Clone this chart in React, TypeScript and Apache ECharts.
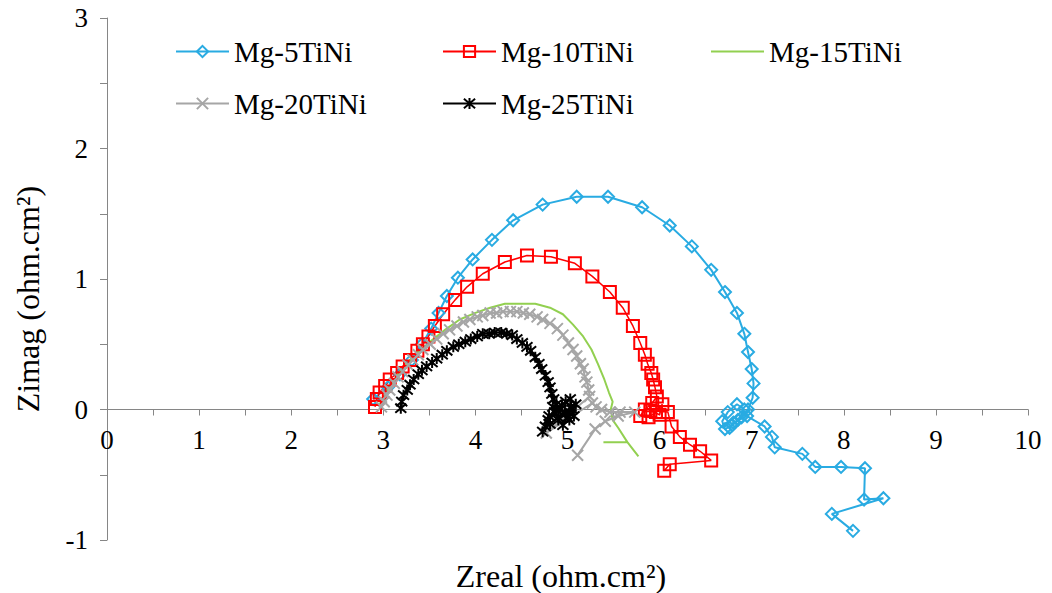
import React, { useEffect, useRef } from "react";
import * as echarts from "echarts";

const seriesNames = ["Mg-5TiNi", "Mg-10TiNi", "Mg-15TiNi", "Mg-20TiNi", "Mg-25TiNi"];

const mg5X = [2.89, 3.05, 3.18, 3.31, 3.42, 3.52, 3.60, 3.69, 3.81, 3.97, 4.18, 4.41, 4.73, 5.10, 5.44, 5.81, 6.11, 6.35, 6.56, 6.71, 6.84, 6.92, 6.96, 7.00, 7.02, 7.01, 6.96, 6.89, 6.79, 6.71, 6.68, 6.74, 6.84, 6.92, 6.85, 6.76, 6.80, 6.95, 7.14, 7.22, 7.25, 7.55, 7.69, 7.97, 8.23, 8.22, 8.43, 7.87, 8.10];
const mg5Y = [0.08, 0.17, 0.27, 0.38, 0.50, 0.62, 0.74, 0.87, 1.01, 1.15, 1.30, 1.45, 1.57, 1.63, 1.63, 1.55, 1.41, 1.25, 1.07, 0.90, 0.74, 0.58, 0.44, 0.31, 0.20, 0.09, 0.00, -0.06, -0.12, -0.15, -0.09, -0.02, 0.04, 0.00, -0.08, -0.14, -0.10, -0.05, -0.13, -0.21, -0.29, -0.34, -0.44, -0.44, -0.45, -0.69, -0.68, -0.80, -0.93];

const mg10X = [2.91, 2.93, 2.96, 3.02, 3.07, 3.15, 3.21, 3.29, 3.37, 3.43, 3.49, 3.56, 3.65, 3.78, 3.91, 4.08, 4.32, 4.56, 4.82, 5.08, 5.27, 5.46, 5.60, 5.71, 5.79, 5.84, 5.87, 5.91, 5.93, 5.95, 5.97, 5.92, 5.84, 5.79, 5.88, 5.96, 6.03, 6.00, 5.90, 6.09, 6.13, 6.22, 6.33, 6.44, 6.56, 6.11, 6.05];
const mg10Y = [0.02, 0.08, 0.13, 0.18, 0.23, 0.28, 0.33, 0.38, 0.45, 0.50, 0.56, 0.64, 0.73, 0.84, 0.94, 1.04, 1.13, 1.18, 1.17, 1.12, 1.02, 0.90, 0.78, 0.64, 0.51, 0.42, 0.35, 0.28, 0.23, 0.17, 0.10, 0.05, 0.00, -0.05, -0.06, -0.02, 0.04, -0.04, -0.01, -0.02, -0.13, -0.21, -0.27, -0.32, -0.39, -0.42, -0.47];

const mg15X = [2.96, 3.03, 3.12, 3.22, 3.36, 3.51, 3.67, 3.83, 4.00, 4.16, 4.32, 4.48, 4.65, 4.81, 4.95, 5.06, 5.17, 5.26, 5.33, 5.40, 5.45, 5.49, 5.47, 5.49, 5.55, 5.65, 5.39, 5.65, 5.77];
const mg15Y = [0.04, 0.13, 0.23, 0.33, 0.43, 0.52, 0.61, 0.69, 0.74, 0.78, 0.81, 0.81, 0.81, 0.78, 0.73, 0.65, 0.56, 0.46, 0.35, 0.23, 0.13, 0.06, 0.00, -0.08, -0.14, -0.25, -0.25, -0.25, -0.36];

const mg20X = [2.98, 3.01, 3.04, 3.07, 3.12, 3.16, 3.21, 3.27, 3.32, 3.38, 3.43, 3.51, 3.58, 3.65, 3.72, 3.80, 3.87, 3.94, 4.02, 4.08, 4.16, 4.23, 4.30, 4.38, 4.45, 4.52, 4.59, 4.67, 4.73, 4.81, 4.89, 4.95, 5.01, 5.06, 5.10, 5.14, 5.17, 5.19, 5.21, 5.23, 5.24, 4.77, 5.27, 5.31, 5.37, 5.46, 5.57, 5.73, 5.55, 5.41, 5.30, 5.11];
const mg20Y = [0.02, 0.06, 0.11, 0.15, 0.20, 0.25, 0.29, 0.34, 0.38, 0.42, 0.46, 0.50, 0.54, 0.58, 0.61, 0.64, 0.67, 0.69, 0.71, 0.72, 0.74, 0.74, 0.75, 0.75, 0.75, 0.74, 0.73, 0.71, 0.69, 0.66, 0.62, 0.57, 0.51, 0.46, 0.41, 0.35, 0.31, 0.25, 0.21, 0.15, 0.10, -0.18, 0.05, 0.02, 0.00, -0.02, -0.02, -0.02, -0.05, -0.09, -0.15, -0.35];

const mg25X = [3.19, 3.20, 3.22, 3.26, 3.29, 3.33, 3.38, 3.42, 3.47, 3.53, 3.58, 3.64, 3.69, 3.76, 3.82, 3.89, 3.95, 4.02, 4.08, 4.15, 4.21, 4.28, 4.34, 4.40, 4.45, 4.51, 4.56, 4.60, 4.65, 4.69, 4.72, 4.76, 4.79, 4.81, 4.83, 4.85, 4.88, 4.92, 4.98, 5.05, 5.09, 5.03, 4.94, 4.86, 4.79, 4.76, 4.73, 4.81, 4.90, 4.97, 5.07, 5.02, 4.84, 4.90, 4.95, 5.00, 5.04, 4.98, 4.88, 4.80];
const mg25Y = [0.01, 0.06, 0.11, 0.15, 0.19, 0.23, 0.27, 0.30, 0.33, 0.36, 0.39, 0.42, 0.45, 0.48, 0.50, 0.52, 0.54, 0.56, 0.58, 0.58, 0.59, 0.59, 0.58, 0.57, 0.54, 0.51, 0.48, 0.45, 0.40, 0.35, 0.31, 0.26, 0.21, 0.17, 0.12, 0.08, 0.04, 0.00, -0.03, 0.00, 0.04, 0.08, 0.03, -0.02, -0.08, -0.13, -0.17, -0.11, -0.06, -0.02, -0.05, -0.08, 0.02, -0.08, -0.12, -0.06, 0.02, 0.06, 0.00, -0.05];

const colors = ["#29ABE2", "#FF0000", "#92D050", "#A6A6A6", "#000000"];

const FONT = '"Liberation Serif", "DejaVu Serif", Tinos, "Times New Roman", Times, serif';

const pair = (xs: number[], ys: number[]) => xs.map((x, i) => [x, ys[i]]);

const xSym = "path://M0,0L10,10M10,0L0,10";
const starSym = "path://M0,0L10,10M10,0L0,10M5,-1L5,11";

export default function App() {
  const ref = useRef<HTMLDivElement>(null);
  useEffect(() => {
    if (!ref.current) return;
    const chart = echarts.init(ref.current, undefined, { renderer: "svg" });
    const intLabel = (v: number) => (Number.isInteger(v) ? String(v) : "");
    const legendPos = [
      { left: 170, top: 32 },
      { left: 437, top: 32 },
      { left: 705, top: 32 },
      { left: 170, top: 84 },
      { left: 437, top: 84 },
    ];
    const option: any = {
      animation: false,
      backgroundColor: "#ffffff",
      textStyle: { fontFamily: FONT },
      grid: { left: 107, right: 24, top: 18, bottom: 53 },
      legend: seriesNames.map((n, i) => ({
        data: i === 2 ? [{ name: n, itemStyle: { opacity: 0 } }] : [n],
        left: legendPos[i].left,
        top: legendPos[i].top,
        itemWidth: 53,
        itemHeight: 14,
        itemGap: 4,
        textStyle: { fontFamily: FONT, fontSize: 29, color: "#000" },
      })),
      xAxis: {
        type: "value",
        min: 0,
        max: 10,
        interval: 0.5,
        offset: -130.5,
        splitLine: { show: false },
        axisLine: { onZero: false, lineStyle: { color: "#868686", width: 1 } },
        axisTick: { lineStyle: { color: "#868686" }, length: 6 },
        axisLabel: { formatter: intLabel, fontFamily: FONT, fontSize: 27, color: "#000", margin: 17 },
      },
      yAxis: {
        type: "value",
        min: -1,
        max: 3,
        interval: 0.5,
        splitLine: { show: false },
        axisLine: { show: true, onZero: false, lineStyle: { color: "#868686", width: 1 } },
        axisTick: { show: true, lineStyle: { color: "#868686" }, length: 7 },
        axisLabel: { formatter: intLabel, fontFamily: FONT, fontSize: 27, color: "#000", margin: 19 },
      },
      graphic: [
        {
          type: "text",
          x: 561,
          y: 576,
          style: { text: "Zreal (ohm.cm²)", fontFamily: FONT, fontSize: 32, fill: "#000", textAlign: "center", textVerticalAlign: "middle" },
        },
        {
          type: "text",
          x: 28,
          y: 299,
          rotation: Math.PI / 2,
          style: { text: "Zimag (ohm.cm²)", fontFamily: FONT, fontSize: 32, fill: "#000", textAlign: "center", textVerticalAlign: "middle" },
        },
      ],
      series: [
        {
          name: seriesNames[0],
          type: "line",
          data: pair(mg5X, mg5Y),
          symbol: "diamond",
          symbolSize: 12,
          lineStyle: { color: colors[0], width: 2 },
          itemStyle: { color: "rgba(255,255,255,0)", borderColor: colors[0], borderWidth: 2 },
        },
        {
          name: seriesNames[1],
          type: "line",
          data: pair(mg10X, mg10Y),
          symbol: "rect",
          symbolSize: 12,
          lineStyle: { color: colors[1], width: 1.5 },
          itemStyle: { color: "rgba(255,255,255,0)", borderColor: colors[1], borderWidth: 2 },
        },
        {
          name: seriesNames[2],
          type: "line",
          data: pair(mg15X, mg15Y),
          symbol: "none",
          lineStyle: { color: colors[2], width: 2 },
          itemStyle: { color: colors[2] },
        },
        {
          name: seriesNames[3],
          type: "line",
          data: pair(mg20X, mg20Y),
          symbol: xSym,
          symbolSize: 11,
          lineStyle: { color: colors[3], width: 2 },
          itemStyle: { color: colors[3], borderColor: colors[3], borderWidth: 2 },
        },
        {
          name: seriesNames[4],
          type: "line",
          data: pair(mg25X, mg25Y),
          symbol: starSym,
          symbolSize: 11,
          lineStyle: { color: colors[4], width: 2 },
          itemStyle: { color: colors[4], borderColor: colors[4], borderWidth: 2 },
        },
      ],
    };
    chart.setOption(option);
    return () => chart.dispose();
  }, []);
  return (
    <div
      ref={ref}
      style={{ position: "absolute", left: 0, top: 0, width: 1052, height: 593, background: "#fff" }}
    />
  );
}
